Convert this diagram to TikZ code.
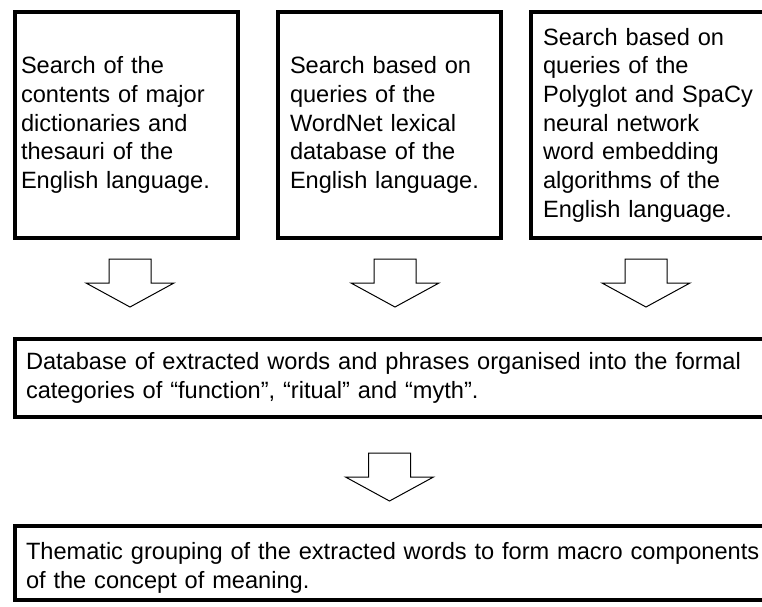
\documentclass[tikz,border=0pt]{standalone}
\usepackage{fontspec}
\setmainfont{Liberation Sans}
\begin{document}
\begin{tikzpicture}[x=1pt,y=-1pt,
    box/.style={draw, line width=4pt, align=left, inner ysep=0pt,
      font=\fontsize{23.6pt}{28.7pt}\selectfont},
    topbox/.style={box, minimum height=226pt},
    widebox/.style={box, anchor=west, minimum width=832pt, text width=810pt,
      inner xsep=11pt},
    hollow/.style={draw, line width=1pt, line join=miter, fill=white},
    downarrow/.pic={\draw[hollow] (-21,0) -- (21,0) -- (21,24) -- (44,24)
      -- (0,48) -- (-44,24) -- (-21,24) -- cycle;}]
  \useasboundingbox (0,0) rectangle (762,606);
  \clip (0,0) rectangle (762,606);

  % three searches
  \node[topbox, minimum width=223pt, text width=211pt, inner xsep=6pt]
    (dict) at (126.5,125)
    {Search of the\\contents of major\\dictionaries and\\thesauri of the\\English language.};
  \node[topbox, minimum width=223pt, text width=199pt, inner xsep=12pt]
    (wordnet) at (389.5,125)
    {Search based on\\queries of the\\WordNet lexical\\database of the\\English language.};
  \node[topbox, minimum width=249pt, text width=225pt, inner xsep=12pt]
    (embed) at (655.5,125)
    {Search based on\\queries of the\\Polyglot and SpaCy\\neural network\\word embedding\\algorithms of the\\English language.};

  % database
  \node[widebox, minimum height=78pt] (db) at (13,378)
    {Database of extracted words and phrases organised into the formal\\categories of “function”, “ritual” and “myth”.};

  % grouping
  \node[widebox, minimum height=74pt] (theme) at (13,563)
    {\rule{0pt}{27pt}Thematic grouping of the extracted words to form macro components\\of the concept of meaning.};

  \pic at ([xshift=3.5pt,yshift=-19pt]dict.south) {downarrow};
  \pic at ([xshift=5.5pt,yshift=-19pt]wordnet.south) {downarrow};
  \pic at ([xshift=-9.5pt,yshift=-19pt]embed.south) {downarrow};
  \pic at ([yshift=-34pt]db.south -| wordnet.south) {downarrow};
\end{tikzpicture}
\end{document}
